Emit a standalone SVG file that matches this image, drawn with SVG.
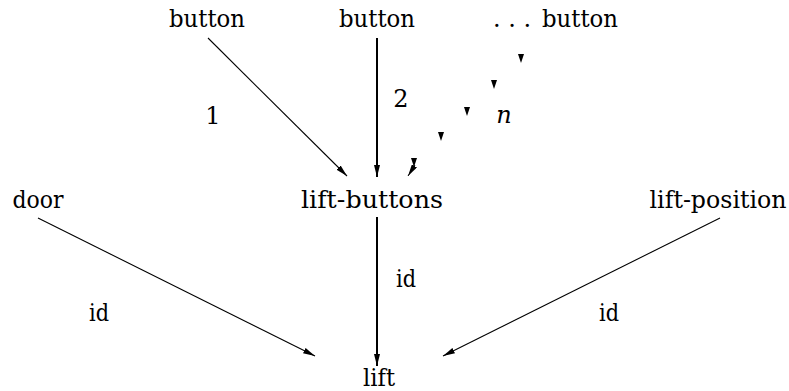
<svg xmlns="http://www.w3.org/2000/svg" width="789" height="391" viewBox="0 0 789 391">
<style>
.t{font-family:"DejaVu Serif","Liberation Serif",serif;font-size:24px;fill:#000;text-anchor:middle}
.e{stroke:#000;fill:none;stroke-width:1.1}
.v{stroke:#000;fill:none;stroke-width:2}
.tri{fill:#000}
</style>
<defs>
<marker id="ah" viewBox="0 0 12 6" refX="12" refY="3" markerWidth="12" markerHeight="6" markerUnits="userSpaceOnUse" orient="auto">
<path d="M0,0 L12,3 L0,6 z" fill="#000"/>
</marker>
</defs>
<rect width="789" height="391" fill="#fff"/>
<g id="button1"><text class="t" x="207" y="27" textLength="76" lengthAdjust="spacingAndGlyphs">button</text></g>
<g id="button2"><text class="t" x="377" y="27" textLength="76" lengthAdjust="spacingAndGlyphs">button</text></g>
<g id="dots"><text class="t" x="512" y="27">. . .</text></g>
<g id="button3"><text class="t" x="580" y="27" textLength="76" lengthAdjust="spacingAndGlyphs">button</text></g>
<g id="lift-buttons"><text class="t" x="372" y="208" textLength="142" lengthAdjust="spacingAndGlyphs">lift-buttons</text></g>
<g id="door"><text class="t" x="38" y="208" textLength="51" lengthAdjust="spacingAndGlyphs">door</text></g>
<g id="lift-position"><text class="t" x="718" y="208" textLength="137" lengthAdjust="spacingAndGlyphs">lift-position</text></g>
<g id="lift"><text class="t" x="379" y="386" textLength="32" lengthAdjust="spacingAndGlyphs">lift</text></g>
<g id="connectors">
<line class="e" x1="208" y1="38" x2="347" y2="176" marker-end="url(#ah)"/>
<line class="v" x1="377" y1="38" x2="377" y2="177" marker-end="url(#ah)"/>
<line class="v" x1="377" y1="217" x2="377" y2="366" marker-end="url(#ah)"/>
<line class="e" x1="38" y1="218" x2="315" y2="356" marker-end="url(#ah)"/>
<line class="e" x1="720" y1="218" x2="443" y2="356" marker-end="url(#ah)"/>
<g id="dotted">
<path class="tri" d="M518,54 L524,54 L521,63 z"/>
<path class="tri" d="M491,80 L497,80 L494,89 z"/>
<path class="tri" d="M464,107 L470,107 L467,116 z"/>
<path class="tri" d="M438,132 L444,132 L441,141 z"/>
<path class="tri" d="M411,158 L417,158 L414,167 z"/>
<line x1="415" y1="165" x2="408" y2="176" stroke="#000" stroke-width="1" marker-end="url(#ah)"/>
</g>
<text class="t" x="213" y="124">1</text>
<text class="t" x="401" y="107">2</text>
<text class="t" x="504" y="123" font-style="italic">n</text>
<text class="t" x="406" y="287" textLength="20" lengthAdjust="spacingAndGlyphs">id</text>
<text class="t" x="99" y="321" textLength="20" lengthAdjust="spacingAndGlyphs">id</text>
<text class="t" x="609" y="321" textLength="20" lengthAdjust="spacingAndGlyphs">id</text>
</g>
</svg>
